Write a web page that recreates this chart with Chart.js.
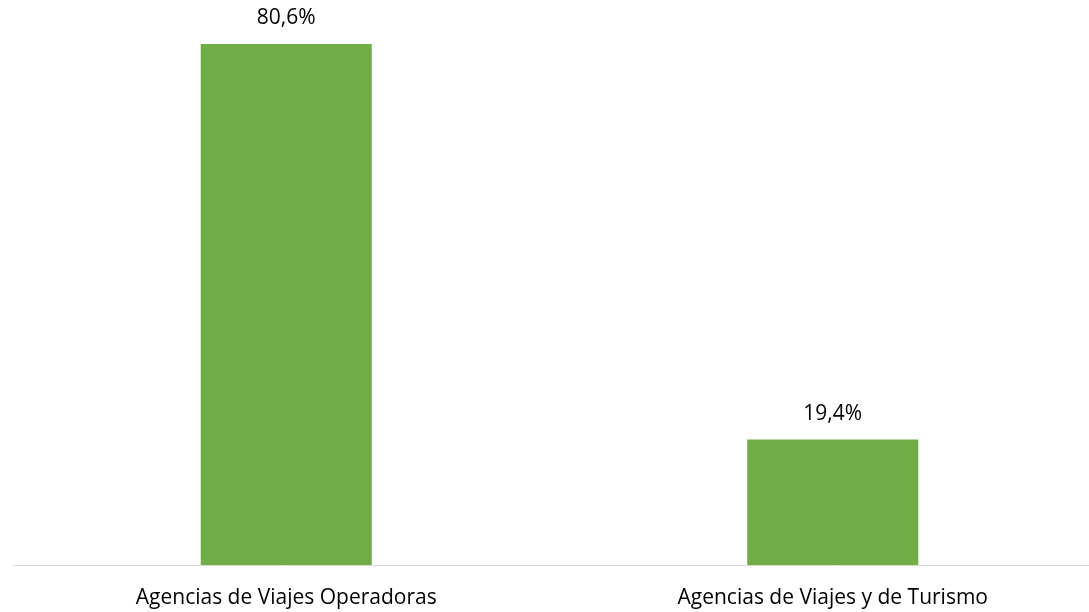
<!DOCTYPE html>
<html>
<head>
<meta charset="utf-8">
<script src="https://cdn.jsdelivr.net/npm/chart.js@4"></script>
<style>
  html, body { margin: 0; padding: 0; background: #fff; overflow: hidden; }
  #wrap { width: 1106px; height: 612px; position: relative; }
</style>
</head>
<body>
<div id="wrap"><canvas id="chart"></canvas></div>
<script>
var categories = ['Agencias de Viajes Operadoras', 'Agencias de Viajes y de Turismo'];
var shares = [80.6, 19.4];
var shareLabels = ['80,6%', '19,4%'];

var fontFamily = '"Open Sans", "Liberation Sans", sans-serif';

// values above the bars
var valueLabels = {
    id: 'valueLabels',
    afterDatasetsDraw: function (chart) {
        var ctx = chart.ctx;
        var meta = chart.getDatasetMeta(0);
        ctx.save();
        ctx.fillStyle = '#000';
        ctx.font = '21px ' + fontFamily;
        ctx.textAlign = 'center';
        ctx.textBaseline = 'middle';
        meta.data.forEach(function (bar, i) {
            ctx.fillText(shareLabels[i], bar.x, bar.y - 26);
        });
        ctx.restore();
    }
};

new Chart(document.getElementById('chart'), {
    type: 'bar',
    data: {
        labels: categories,
        datasets: [{
            data: shares,
            backgroundColor: '#70ad47',
            borderWidth: 0,
            categoryPercentage: 1,
            barPercentage: 0.313
        }]
    },
    options: {
        responsive: true,
        maintainAspectRatio: false,
        animation: false,
        layout: { padding: { left: 13, right: 0, top: 0, bottom: 0 } },
        plugins: {
            legend: { display: false },
            tooltip: { enabled: false }
        },
        scales: {
            x: {
                grid: { display: false, drawTicks: false },
                border: { display: true, color: '#d9d9d9', width: 1 },
                ticks: {
                    color: '#000',
                    padding: 20,
                    font: { family: fontFamily, size: 21 }
                },
                afterFit: function (scale) { scale.height = 47; }
            },
            y: {
                display: false,
                min: 0,
                max: 87.4
            }
        }
    },
    plugins: [valueLabels]
});
</script>
</body>
</html>
